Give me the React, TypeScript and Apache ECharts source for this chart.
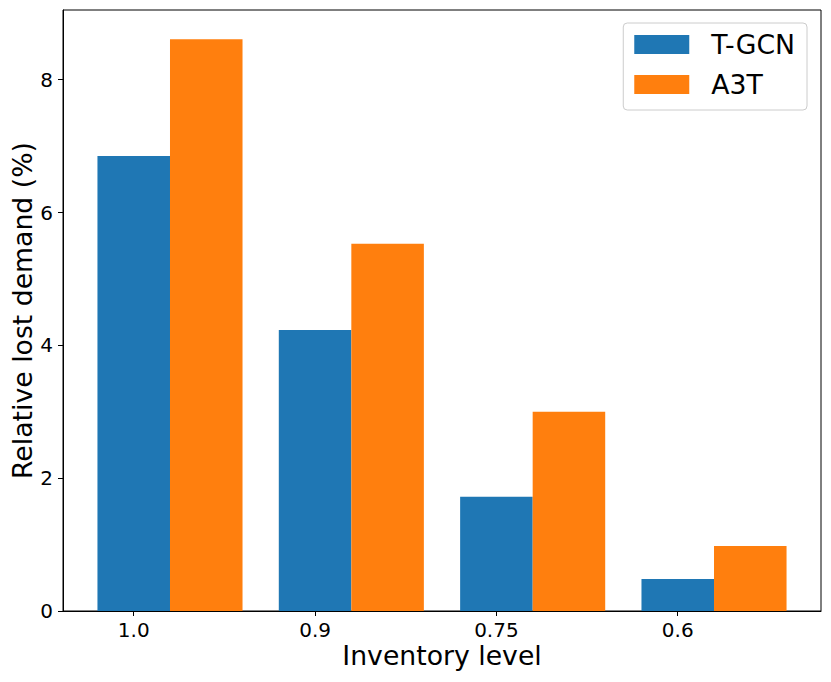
import React, { useEffect, useRef } from "react";
import * as echarts from "echarts";

const categories = ["1.0", "0.9", "0.75", "0.6"];
const tgcnValues = [6.85, 4.23, 1.72, 0.48];
const a3tValues = [8.61, 5.53, 3.0, 0.98];
const yTicks = [0, 2, 4, 6, 8];
const seriesNames = ["T-GCN", "A3T"];

const W = 831;
const H = 682;
const GRID = { left: 63, right: 10, top: 10, bottom: 71 };
const X_MIN = -0.39;
const X_MAX = 3.79;
const BAR_UNITS = 0.4;
const FONT = "DejaVu Sans";

export default function App() {
  const ref = useRef<HTMLDivElement>(null);
  useEffect(() => {
    if (!ref.current) return;
    const chart = echarts.init(ref.current, undefined, { renderer: "svg" });
    const plotW = W - GRID.left - GRID.right;
    const barWidth = (plotW / (X_MAX - X_MIN)) * BAR_UNITS;
    const xPositions = categories.map((_, i) => i);
    chart.setOption({
      animation: false,
      backgroundColor: "#ffffff",
      textStyle: { fontFamily: FONT, color: "#000" },
      grid: {
        ...GRID,
        containLabel: false,
        outerBoundsMode: "none",
        show: true,
        borderColor: "#000",
        borderWidth: 1,
        backgroundColor: "transparent",
      },
      legend: {
        data: seriesNames,
        orient: "vertical",
        right: 24,
        top: 23,
        icon: "rect",
        itemWidth: 55,
        itemHeight: 19,
        itemGap: 13,
        padding: [8, 12, 12, 11],
        borderColor: "#cccccc",
        borderWidth: 1,
        borderRadius: 4,
        backgroundColor: "rgba(255,255,255,0.8)",
        textStyle: {
          fontFamily: FONT,
          fontSize: 26.7,
          lineHeight: 27,
          color: "#000",
          padding: [0, 0, 0, 17],
        },
      },
      xAxis: {
        type: "value",
        min: X_MIN,
        max: X_MAX,
        name: "Inventory level",
        nameLocation: "middle",
        nameGap: 31,
        nameMoveOverlap: false,
        nameTextStyle: { fontFamily: FONT, fontSize: 26.7, color: "#000" },
        splitLine: { show: false },
        axisLine: { show: true, onZero: false, lineStyle: { color: "#000", width: 1 } },
        axisTick: {
          show: true,
          length: 5,
          customValues: xPositions,
          lineStyle: { color: "#000", width: 1 },
        },
        axisLabel: {
          customValues: xPositions,
          fontFamily: FONT,
          fontSize: 20,
          color: "#000",
          margin: 9,
          formatter: (v: number) => categories[Math.round(v)] ?? "",
        },
      },
      yAxis: {
        type: "value",
        min: 0,
        max: 9.05,
        name: "Relative lost demand (%)",
        nameLocation: "middle",
        nameGap: 27,
        nameMoveOverlap: false,
        nameTextStyle: { fontFamily: FONT, fontSize: 26.7, color: "#000" },
        splitLine: { show: false },
        axisLine: { show: true, onZero: false, lineStyle: { color: "#000", width: 1 } },
        axisTick: {
          show: true,
          length: 5,
          customValues: yTicks,
          lineStyle: { color: "#000", width: 1 },
        },
        axisLabel: {
          customValues: yTicks,
          fontFamily: FONT,
          fontSize: 20,
          color: "#000",
          margin: 10,
          formatter: (v: number) => String(v),
        },
      },
      series: [
        {
          name: seriesNames[0],
          type: "bar",
          barWidth,
          barGap: "-100%",
          itemStyle: { color: "#1f77b4" },
          data: xPositions.map((x, i) => [x, tgcnValues[i]]),
        },
        {
          name: seriesNames[1],
          type: "bar",
          barWidth,
          barGap: "-100%",
          itemStyle: { color: "#ff7f0e" },
          data: xPositions.map((x, i) => [x + BAR_UNITS, a3tValues[i]]),
        },
      ],
    });
    return () => chart.dispose();
  }, []);
  return (
    <div
      ref={ref}
      style={{ position: "absolute", left: 0, top: 0, width: W, height: H }}
    />
  );
}
